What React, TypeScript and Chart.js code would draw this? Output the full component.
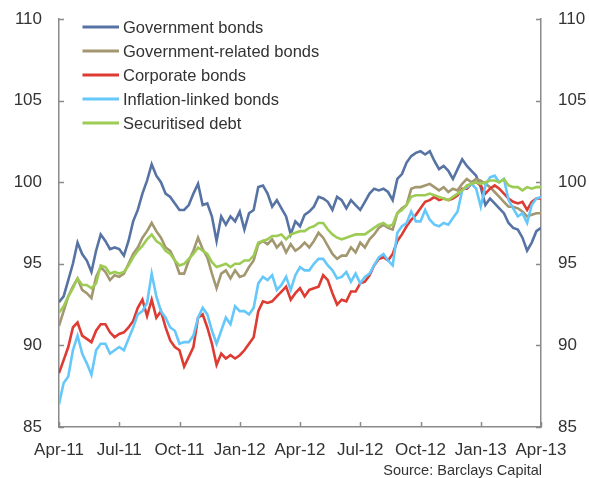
import React, { useEffect, useRef } from "react";
import { Chart, registerables } from "chart.js";

Chart.register(...registerables);

const quarterLabels = ["Apr-11", "Jul-11", "Oct-11", "Jan-12", "Apr-12", "Jul-12", "Oct-12", "Jan-13", "Apr-13"];
const yTicks = [85, 90, 95, 100, 105, 110];

const seriesNames = ["Government bonds", "Government-related bonds", "Corporate bonds", "Inflation-linked bonds", "Securitised debt"];

const governmentBonds = [92.65, 93.0, 94.0, 95.0, 96.3, 95.6, 95.2, 94.5, 95.8, 96.8,
  96.4, 95.9, 96.0, 95.9, 95.5, 96.4, 97.6, 98.3, 99.3, 100.1,
  101.1, 100.4, 100.0, 99.3, 99.1, 98.7, 98.3, 98.3, 98.6, 99.3,
  99.9, 98.6, 98.7, 97.9, 96.4, 97.9, 97.4, 97.9, 97.6, 98.2,
  97.1, 98.1, 98.3, 99.7, 99.8, 99.3, 98.5, 98.9, 98.4, 97.9,
  96.8, 97.6, 97.3, 98.0, 98.2, 98.5, 99.1, 99.0, 98.8, 98.3,
  99.1, 98.9, 98.4, 98.9, 98.6, 98.3, 98.8, 99.3, 99.6, 99.5,
  99.6, 99.4, 98.9, 100.2, 100.5, 101.2, 101.6, 101.8, 101.9, 101.7,
  101.9, 101.3, 100.8, 101.0, 100.7, 100.2, 100.8, 101.4, 101.0, 100.7,
  100.4, 99.7, 98.6, 99.0, 98.7, 98.4, 98.1, 97.5, 97.2, 97.1,
  96.6, 95.8, 96.3, 97.0, 97.2];

const governmentRelated = [91.2, 92.1, 93.0, 93.6, 94.1, 93.4, 93.2, 92.9, 94.2, 94.8,
  94.5, 94.0, 94.3, 94.2, 94.4, 95.0, 95.6, 96.0, 96.6, 97.0,
  97.5, 97.0, 96.6, 96.0, 95.8, 95.2, 94.4, 94.4, 95.2, 95.8,
  96.6, 95.9, 95.4, 94.4, 93.5, 94.4, 94.6, 94.1, 94.6, 94.2,
  94.3, 94.8, 95.2, 96.2, 96.4, 96.2, 96.5, 96.0, 96.3, 95.7,
  96.2, 95.8, 96.0, 96.3, 96.0, 96.4, 96.9, 96.6, 96.1, 95.6,
  95.3, 95.5, 95.5, 96.0, 95.7, 96.3, 96.0, 96.5, 96.8, 97.2,
  97.4, 97.2, 97.1, 98.1, 98.4, 98.6, 99.6, 99.7, 99.7, 99.8,
  99.9, 99.7, 99.5, 99.7, 99.4, 99.6, 99.5, 99.9, 100.2, 100.0,
  100.2, 100.1, 99.9, 99.7, 99.4, 99.1, 98.8, 98.5, 98.5, 98.4,
  98.2, 97.9, 98.0, 98.1, 98.1];

const corporateBonds = [88.3, 89.1, 89.9, 91.1, 91.4, 90.6, 90.4, 90.2, 90.9, 91.3,
  91.3, 90.8, 90.5, 90.7, 90.8, 91.1, 91.5, 92.3, 92.8, 91.8,
  92.8, 91.7, 92.1, 91.1, 90.3, 89.9, 89.7, 88.7, 89.3, 89.9,
  91.7, 91.9, 91.1, 90.1, 88.8, 89.5, 89.2, 89.4, 89.2, 89.4,
  89.7, 90.1, 90.5, 92.1, 92.7, 92.6, 92.7, 93.0, 93.3, 93.6,
  92.8, 93.2, 93.5, 93.0, 93.4, 93.5, 93.6, 94.3, 94.0, 93.2,
  92.5, 92.8, 92.7, 93.3, 93.3, 93.8, 93.9, 94.3, 94.9, 95.3,
  95.4, 95.2, 95.6, 96.4, 96.8, 97.3, 97.7, 98.0, 98.4, 98.8,
  98.9, 99.1, 98.9, 99.0, 98.9, 99.0, 99.2, 99.6, 99.6, 99.9,
  100.0, 99.8, 99.3, 99.6, 99.8, 99.6, 99.3, 99.0, 98.8, 98.7,
  98.8, 98.3, 98.8, 99.0, 99.0];

const inflationLinked = [86.4, 87.7, 88.1, 89.7, 90.6, 89.5, 88.9, 88.2, 89.7, 90.1,
  90.1, 89.5, 89.7, 89.9, 89.7, 90.4, 91.1, 91.9, 92.1, 92.6,
  94.4, 93.0, 92.1, 91.7, 91.1, 90.9, 90.1, 90.2, 90.2, 90.6,
  91.7, 92.3, 91.9, 90.9, 90.1, 90.9, 91.7, 91.3, 92.4, 92.1,
  92.1, 91.9, 92.3, 93.8, 94.2, 94.0, 94.3, 93.4, 93.7, 94.2,
  93.4, 94.3, 94.8, 94.6, 94.6, 95.0, 95.3, 95.3, 94.9, 94.6,
  94.1, 94.2, 94.5, 93.9, 94.4, 93.8, 94.2, 94.4, 94.9, 95.4,
  95.6, 95.2, 94.9, 96.9, 97.3, 97.5, 98.2, 97.6, 97.6, 98.3,
  97.7, 97.4, 97.3, 97.5, 97.4, 97.8, 98.2, 99.5, 99.7, 99.9,
  99.6, 98.5, 99.8, 100.3, 100.4, 100.0, 100.2, 98.9, 98.4, 97.9,
  98.1, 97.5, 98.6, 99.0, 99.1];

const securitisedDebt = [92.0, 92.4, 93.0, 93.5, 94.1, 93.7, 93.7, 93.5, 93.8, 94.9,
  94.8, 94.4, 94.5, 94.4, 94.5, 94.9, 95.4, 95.8, 96.1, 96.5,
  96.8, 96.4, 96.2, 95.8, 95.6, 95.2, 94.9, 95.0, 95.3, 95.6,
  96.0, 95.8, 95.6, 95.1, 94.8, 94.9, 95.0, 94.8, 95.0, 95.0,
  95.2, 95.2, 95.5, 96.3, 96.4, 96.5, 96.7, 96.7, 96.8, 96.5,
  96.8, 96.9, 97.0, 97.0, 97.2, 97.3, 97.5, 97.5, 97.1, 96.8,
  96.6, 96.5, 96.6, 96.7, 96.8, 96.8, 96.8, 97.0, 97.2, 97.4,
  97.5, 97.3, 97.4, 98.1, 98.3, 98.6, 99.1, 99.2, 99.2, 99.2,
  99.3, 99.2, 99.1, 99.0, 98.9, 99.1, 99.3, 99.5, 99.8, 99.9,
  100.0, 99.9, 100.0, 100.1, 100.1, 100.0, 100.2, 99.8, 99.7, 99.7,
  99.5, 99.7, 99.6, 99.7, 99.7];

const seriesValues = [governmentBonds, governmentRelated, corporateBonds, inflationLinked, securitisedDebt];
const seriesColors = ["#5673A3", "#A39770", "#DE3B33", "#66C8FA", "#9DCC55"];

const FONT = "'Liberation Sans', Arial, sans-serif";
const TEXT = "#333333";
const AXIS = "#8a8a8a";

const decorPlugin = {
  id: "decor",
  afterDatasetsDraw(chart: any) {
    const { ctx, chartArea, scales } = chart;
    const { left, right, top, bottom } = chartArea;
    ctx.save();
    // inward tick marks
    ctx.strokeStyle = AXIS;
    ctx.lineWidth = 1.5;
    ctx.beginPath();
    yTicks.forEach((v) => {
      const y = Math.round(scales.y.getPixelForValue(v)) + 0.5;
      ctx.moveTo(left, y);
      ctx.lineTo(left + 5, y);
      ctx.moveTo(right, y);
      ctx.lineTo(right - 5, y);
    });
    quarterLabels.forEach((_, k) => {
      const x = Math.round(scales.x.getPixelForValue(k * 13)) + 0.5;
      ctx.moveTo(x, bottom);
      ctx.lineTo(x, bottom - 5);
    });
    ctx.stroke();

    // legend
    ctx.font = `16.5px ${FONT}`;
    ctx.textBaseline = "middle";
    ctx.textAlign = "left";
    seriesNames.forEach((name, k) => {
      const y = top + 8 + k * 24;
      ctx.strokeStyle = seriesColors[k];
      ctx.lineWidth = 3;
      ctx.beginPath();
      ctx.moveTo(left + 23.5, y);
      ctx.lineTo(left + 60, y);
      ctx.stroke();
      ctx.fillStyle = TEXT;
      ctx.fillText(name, left + 64, y + 1);
    });

    // source
    ctx.font = `14.5px ${FONT}`;
    ctx.textAlign = "right";
    ctx.textBaseline = "alphabetic";
    ctx.fillStyle = TEXT;
    ctx.fillText("Source: Barclays Capital", right + 1, chart.height - 3);
    ctx.restore();
  },
};

export default function App() {
  const ref = useRef<HTMLCanvasElement | null>(null);

  useEffect(() => {
    document.body.style.margin = "0";
    const canvas = ref.current;
    if (!canvas) return;
    const datasets = seriesValues.map((vals, k) => ({
      label: seriesNames[k],
      data: vals.map((v, i) => ({ x: i, y: v })),
      borderColor: seriesColors[k],
      backgroundColor: seriesColors[k],
      borderWidth: 2.6,
      pointRadius: 0,
      tension: 0,
      fill: false,
      order: 5 - k,
    }));
    const tickFont = { family: FONT, size: 17 };
    const fitV = (w: number) => (s: any) => {
      s.width = w;
      s.paddingTop = 0;
      s.paddingBottom = 0;
    };
    const chart = new Chart(canvas, {
      type: "line",
      data: { datasets },
      plugins: [decorPlugin],
      options: {
        animation: false,
        responsive: false,
        maintainAspectRatio: false,
        layout: { padding: { top: 19, left: 0, right: 0, bottom: 0 } },
        plugins: { legend: { display: false }, tooltip: { enabled: false } },
        scales: {
          x: {
            type: "linear",
            min: 0,
            max: 104,
            grid: { display: false, drawTicks: false },
            border: { display: true, color: AXIS, width: 1.5 },
            ticks: {
              stepSize: 13,
              autoSkip: false,
              maxRotation: 0,
              padding: 13,
              color: TEXT,
              font: tickFont,
              callback: (v: any) => quarterLabels[Math.round(Number(v) / 13)] ?? "",
            },
            afterFit: (s: any) => {
              s.height = 51;
              s.paddingLeft = 0;
              s.paddingRight = 0;
            },
          },
          y: {
            position: "left",
            min: 85,
            max: 110,
            grid: { display: false, drawTicks: false },
            border: { display: true, color: AXIS, width: 1.5 },
            ticks: { stepSize: 5, padding: 17, color: TEXT, font: tickFont },
            afterFit: fitV(59),
          },
          y2: {
            position: "right",
            min: 85,
            max: 110,
            grid: { display: false, drawTicks: false },
            border: { display: true, color: AXIS, width: 1.5 },
            ticks: { stepSize: 5, padding: 17, color: TEXT, font: tickFont },
            afterFit: fitV(48),
          },
        },
      },
    });
    return () => chart.destroy();
  }, []);

  return (
    <div style={{ width: 589, height: 478 }}>
      <canvas ref={ref} width={589} height={478} style={{ display: "block", width: 589, height: 478 }} />
    </div>
  );
}
